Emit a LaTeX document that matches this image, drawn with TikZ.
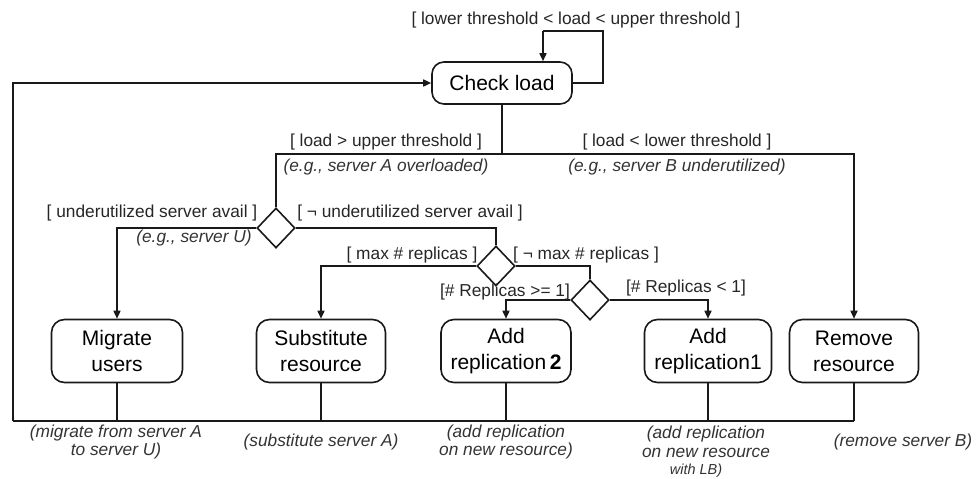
\documentclass[tikz,border=0pt]{standalone}
\usepackage{fontspec}
\setmainfont{Liberation Sans}
\usetikzlibrary{shapes.geometric,arrows.meta}
\begin{document}
\begin{tikzpicture}[x=1pt,y=-1pt,
  line/.style={line width=1.6pt, draw=black!90},
  arr/.style={line, -{Triangle[length=8pt,width=7pt]}},
  act/.style={draw=black!90, line width=1.6pt, rounded corners=13pt, minimum width=130pt, minimum height=63pt, align=center, font=\fontsize{21}{26}\selectfont, inner sep=0pt},
  dec/.style={diamond, draw=black!90, line width=1.6pt, minimum width=38pt, minimum height=40pt, inner sep=0pt},
  guard/.style={font=\fontsize{17.3}{20}\selectfont, inner sep=0pt, text=black!85},
  note/.style={font=\fontsize{17.3}{18.5}\selectfont\itshape, inner sep=0pt, align=center, text=black!80},
]
\useasboundingbox (0,0) rectangle (978,479);

% activity nodes
\node[act, minimum width=140pt, minimum height=42pt, rounded corners=12pt] (check) at (502,83) {Check load};
\node[act, minimum width=131pt] (migrate) at (117,351) {Migrate\\users};
\node[act, minimum width=129pt] (subst) at (321,351) {Substitute\\resource};
\node[act, minimum width=130pt] (add2) at (506,351) {Add\\replication\,\textbf{2}};
\node[act, minimum width=127pt] (add1) at (708,351) {Add\\replication1};
\node[act, minimum width=129pt] (remove) at (854,351) {Remove\\resource};

% decisions
\node[dec] (d1) at (276,228) {};
\node[dec] (d2) at (496,266) {};
\node[dec] (d3) at (590,300) {};

% helper coordinates
\coordinate (loopR) at (603,31);
\coordinate (loopL) at (543,31);
\coordinate (split) at (502,154);
\coordinate (bus) at (13,421);

% self loop
\draw[line] (check.east) -| (loopR) -- (loopL);
\draw[arr] (loopL) -- (loopL |- check.north);

% feedback
\draw[arr] (bus) |- (check.west);
\draw[line] (bus) -- (remove.south |- bus);
\foreach \n in {migrate,subst,add2,add1,remove}
  \draw[line] (\n.south) -- (\n.south |- bus);

% split after check
\draw[line] (check.south) -- (split);
\draw[line] (split) -| (d1.north);
\draw[arr] (split) -| (remove.north);

% decision branches
\draw[arr] (d1.west) -| (migrate.north);
\draw[line] (d1.east) -| (d2.north);
\draw[arr] (d2.west) -| (subst.north);
\draw[line] (d2.east) -| (d3.north);
\draw[arr] (d3.west) -| (add2.north);
\draw[arr] (d3.east) -| (add1.north);

% guards
\node[guard] (gLoop) at (576,20) {[ lower threshold < load < upper threshold ]};
\node[guard] (gUp) at (386,142) {[ load > upper threshold ]};
\node[note] (eA) at (386,167) {(e.g., server A overloaded)};
\node[guard] (gLow) at (677,142) {[ load < lower threshold ]};
\node[note] (eB) at (677,167) {(e.g., server B underutilized)};
\node[guard] (gAv) at (152,213) {[ underutilized server avail ]};
\node[note] (eU) at (194,238) {(e.g., server U)};
\node[guard] (gNAv) at (410,213) {[ ¬ underutilized server avail ]};
\node[guard] (gMax) at (412,255) {[ max \# replicas ]};
\node[guard] (gNMax) at (586,255) {[ ¬ max \# replicas ]};
\node[guard] (gGe) at (505,292) {[\# Replicas >= 1]};
\node[guard] (gLt) at (686,288) {[\# Replicas < 1]};

% notes
\node[note] (nMig) at (116,442) {(migrate from server A\\to server U)};
\node[note] (nSub) at (321,442) {(substitute server A)};
\node[note] (nAdd2) at (506,442) {(add replication\\on new resource)};
\node[note] (nAdd1) at (706,442) {(add replication\\on new resource};
\node[note, font=\fontsize{14.5}{16}\selectfont\itshape] (nAdd1b) at (696,471) {with LB)};
\node[note] (nRem) at (903,442) {(remove server B)};
\end{tikzpicture}
\end{document}
